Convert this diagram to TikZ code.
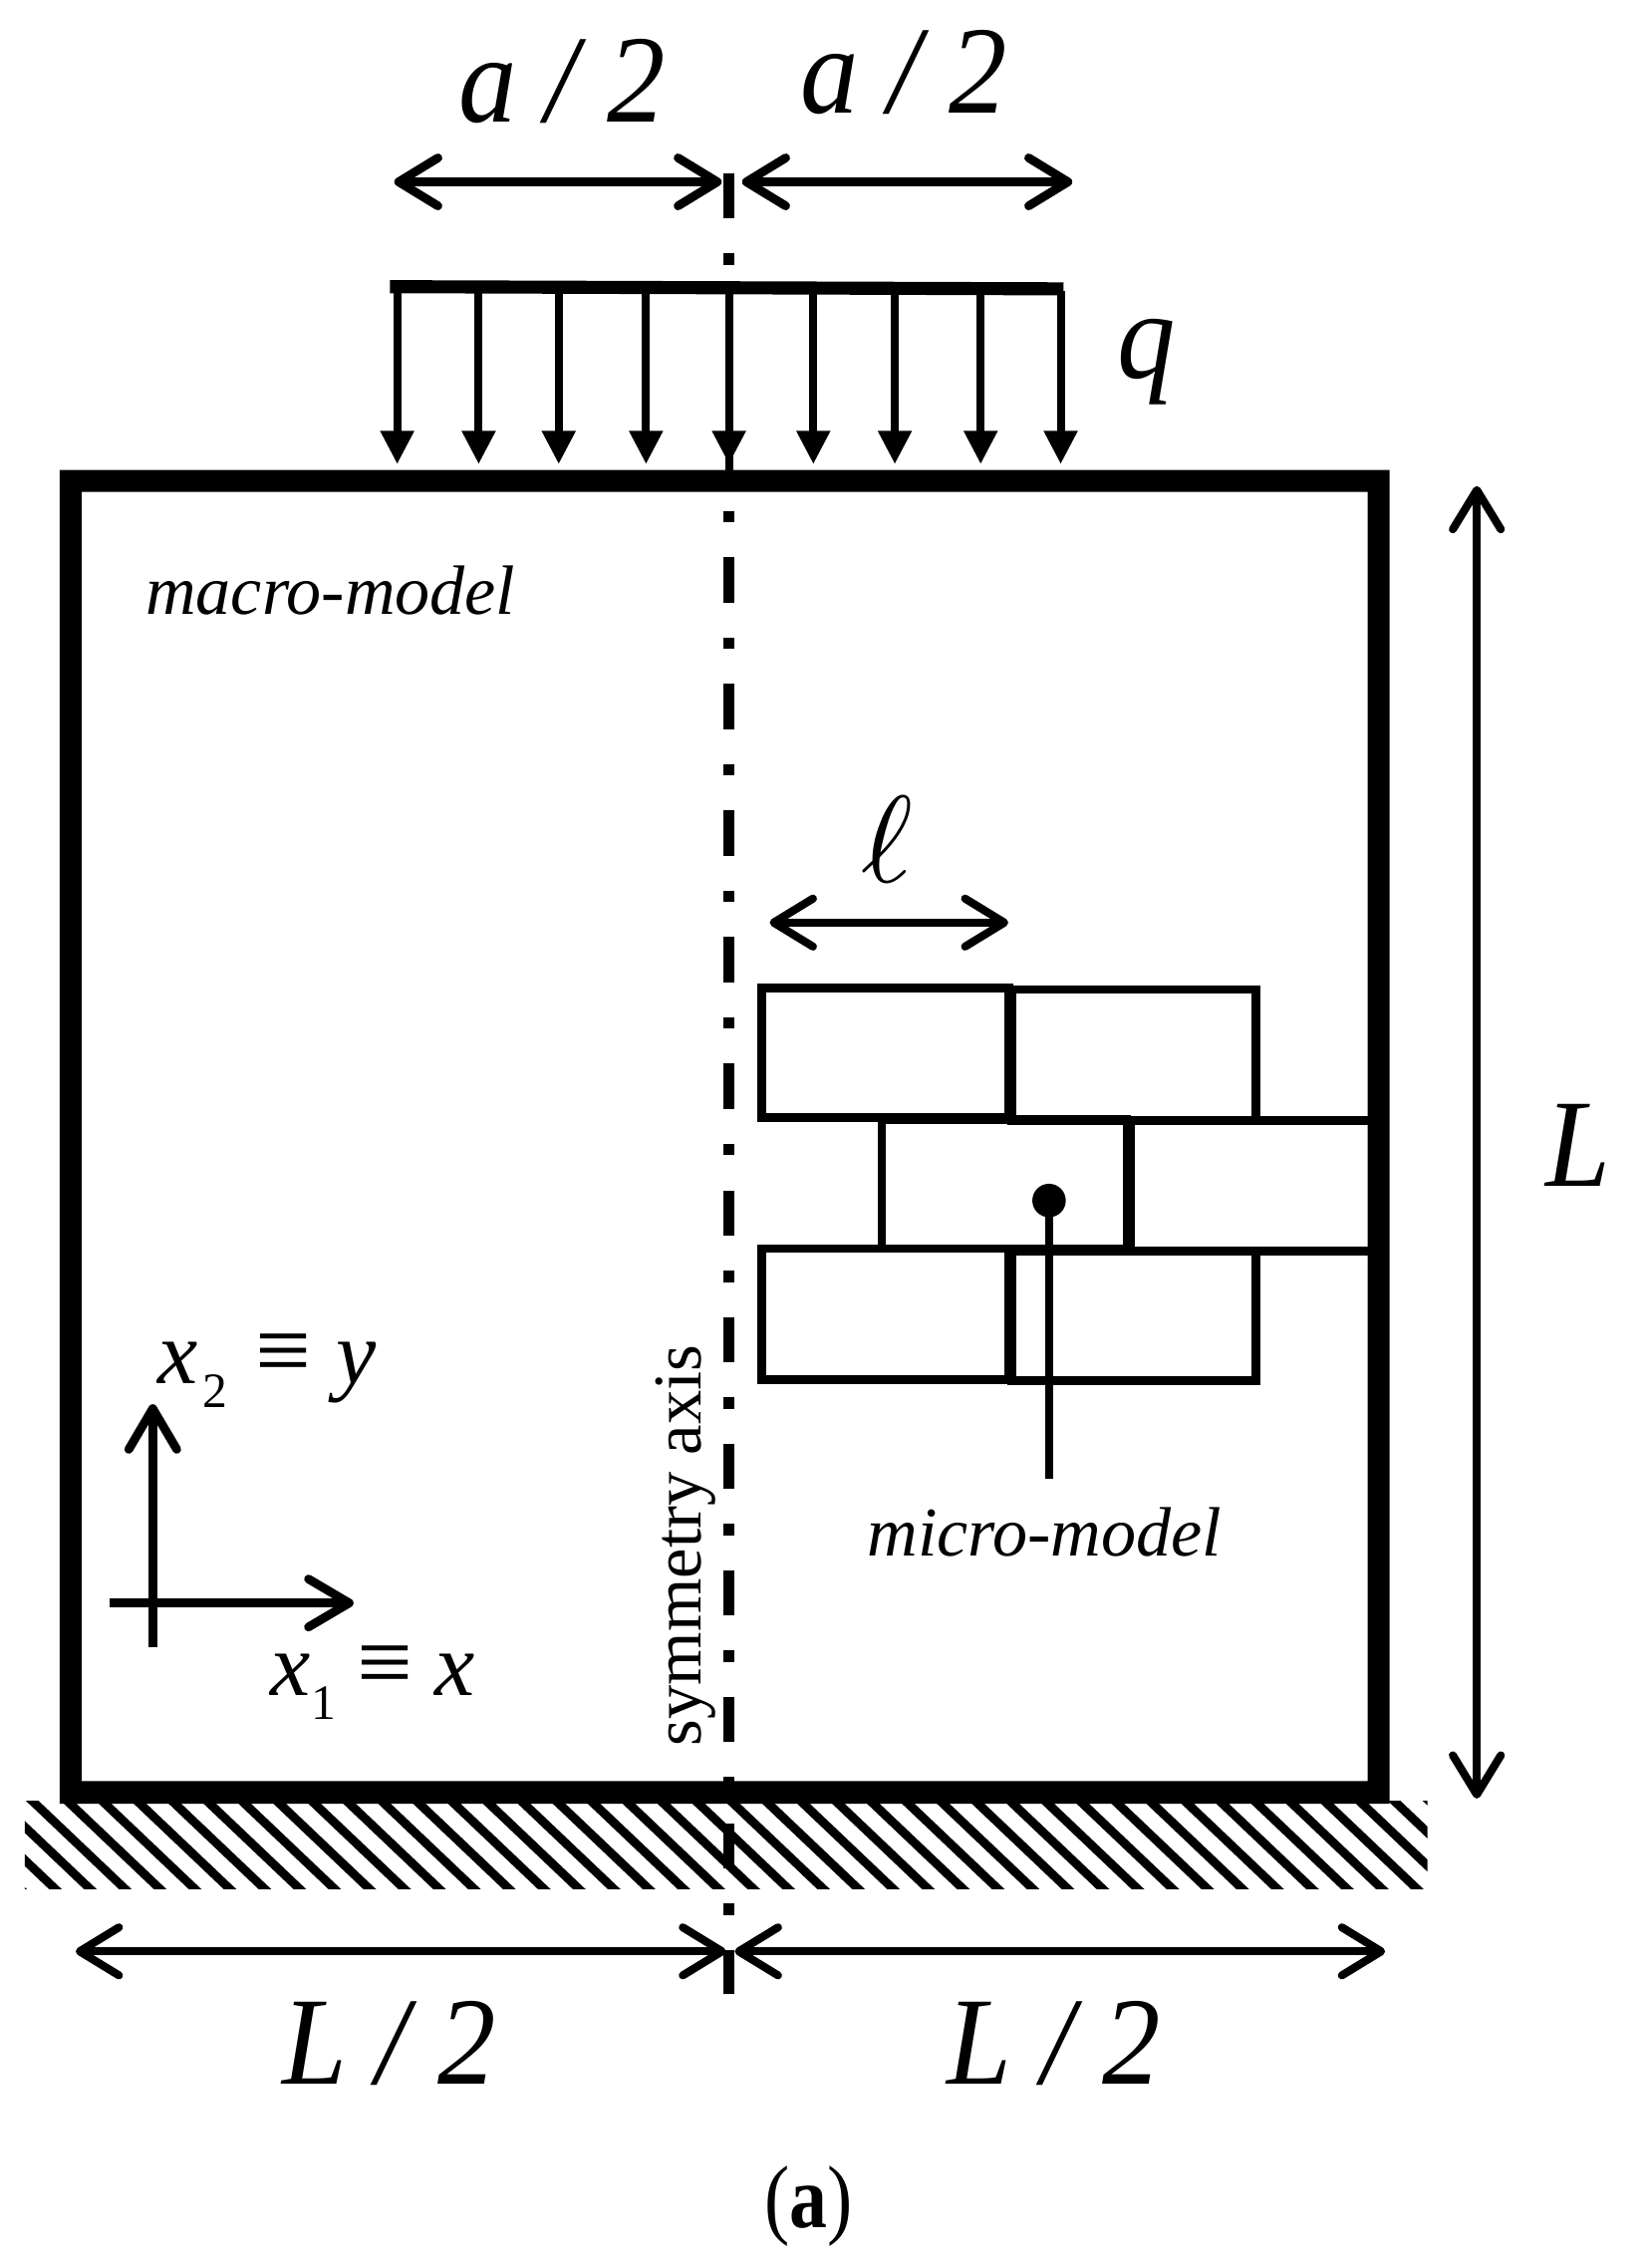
\documentclass[tikz,border=0pt]{standalone}
\usepackage{fontspec}
\setmainfont{Liberation Serif}
\usetikzlibrary{arrows.meta}
\newcommand\nrw[1]{\scalebox{.93}[1]{#1}}
\newcommand\subd[1]{\raisebox{-16pt}{\fontsize{34}{34}\selectfont\upshape #1}}
\newcommand\eqv{{\fontsize{68}{68}\selectfont\upshape ≡}}
\tikzset{
  x=1pt,y=-1pt,
  dim/.style={line width=#1,{Straight Barb[length=27pt,width=33pt,line width=#1,round]}-{Straight Barb[length=27pt,width=33pt,line width=#1,round]}},
  load/.style={line width=5.5pt,-{Stealth[length=23pt,width=22pt,inset=0pt]}},
  axisline/.style={line width=7.5pt,dash pattern=on 31pt off 24pt on 8pt off 24pt},
  brick/.style={line width=6pt,draw=black},
  big/.style={inner sep=0pt,anchor=base west,font=\fontsize{86}{86}\selectfont\itshape},
  small/.style={inner sep=0pt,anchor=base west,font=\fontsize{48}{48}\selectfont\itshape},
  coord/.style={inner sep=0pt,anchor=base west,font=\fontsize{62}{62}\selectfont\itshape},
  axisarrow/.style={line width=6pt,-{Straight Barb[length=28pt,width=33pt,line width=6pt,round]}},
}
\begin{document}
\begin{tikzpicture}
\useasboundingbox (0,0) rectangle (1134,1558.6);
% hatch
\begin{scope}
\clip (17,1238) rectangle (981,1298);
\foreach \i in {-4,...,42}{\draw[line width=6pt] ({23.7+\i*24-20},1220) -- ++(100,95);}
\end{scope}
% axis
\coordinate (at) at (501,119);
\coordinate (am) at (501,190);
\coordinate (an) at (501,351);
\coordinate (ab) at (501,1370);
\draw[axisline] (at) -- (am);
\draw[axisline,dash phase=55pt] (an) -- (ab);
% frame
\fill[even odd rule] (41,323) rectangle (955,1239.5) (56,338) rectangle (940,1224);
% load
\draw[line width=9pt] (268,197) -- (731,198.5);
\foreach \x in {273,329,384,444,501,559,615,674,729}{\draw[load] (\x,200) -- (\x,319);}
\draw[line width=5.5pt] (501,300) -- (501,325);
% dimensions
\coordinate (a1) at (271,125); \coordinate (a2) at (496,125); \coordinate (a3) at (510,125); \coordinate (a4) at (737,125);
\draw[dim=6pt] (a1) -- (a2);
\draw[dim=6pt] (a3) -- (a4);
\coordinate (b1) at (1015,334); \coordinate (b2) at (1015,1236);
\draw[dim=5.5pt] (b1) -- (b2);
\coordinate (c1) at (52,1341); \coordinate (c2) at (499,1341); \coordinate (c3) at (505,1341); \coordinate (c4) at (952,1341);
\draw[dim=5.5pt] (c1) -- (c2);
\draw[dim=5.5pt] (c3) -- (c4);
\coordinate (d1) at (529,634); \coordinate (d2) at (693,634);
\draw[dim=5.5pt] (d1) -- (d2);
% bricks
\draw[brick] (523.5,679) rectangle (693.5,768);
\draw[brick] (695.5,680) rectangle (863,770);
\draw[brick] (606,769.5) rectangle (774.5,858);
\draw[brick] (940,770) -- (777,770) -- (777,860) -- (940,860);
\draw[brick] (523.5,858) rectangle (693.5,948);
\draw[brick] (695.5,860) rectangle (863,949);
% micro pointer
\fill (721,825) circle (11.5);
\coordinate (m1) at (721,825); \coordinate (m2) at (721,1016);
\draw[line width=5.5pt] (m1) -- (m2);
% axes
\coordinate (x0) at (75.6,1101.6); \coordinate (x1) at (243,1101.6);
\coordinate (y0) at (105,1132); \coordinate (y1) at (105,965);
\draw[axisarrow] (x0) -- (x1);
\draw[axisarrow] (y0) -- (y1);
% texts
\node[big] (t1) at (315,84) {\nrw{a / 2}};
\node[big] (t2) at (550,78) {\nrw{a / 2}};
\node[big] (t3) at (768,260) {\nrw{q}};
\node[big] (t4) at (1062,815) {\nrw{L}};
\node[big] (t5) at (194,1432) {\nrw{L / 2}};
\node[big] (t6) at (651,1432) {\nrw{L / 2}};
\node[small] (t7) at (100,422) {macro-model};
\node[small] (t8) at (596,1069) {micro-model};
\node[coord] (t9) at (108,951) {x\kern3.5pt\subd{2}\kern19.5pt\eqv\kern17pt y};
\node[coord] (t10) at (186,1165.5) {x\subd{1}\kern14.8pt\eqv\kern14.8pt x};
\node[inner sep=0pt,scale=8.5] (t11) at (609.5,577) {$\ell$};
\node[inner sep=0pt,anchor=base west,rotate=90,font=\fontsize{47}{47}\selectfont] (t12) at (482,1200) {symmetry axis};
\node[inner sep=0pt,anchor=base,font=\fontsize{61}{61}\selectfont] (t13) at (556,1531) {\scalebox{.85}[1]{(\textbf{a})}};
\end{tikzpicture}
\end{document}
